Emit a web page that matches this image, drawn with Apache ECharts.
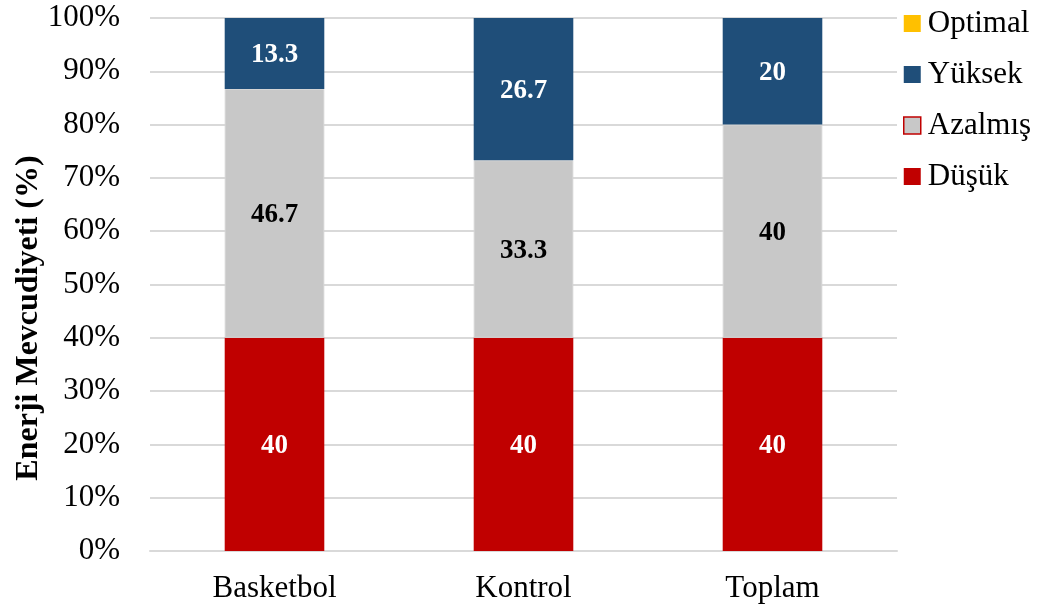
<!DOCTYPE html>
<html>
<head>
<meta charset="utf-8">
<script src="https://cdn.jsdelivr.net/npm/echarts@6/dist/echarts.min.js"></script>
<style>
  html, body { margin: 0; padding: 0; background: #fff; }
  #chart { width: 1037px; height: 612px; }
</style>
</head>
<body>
<div id="chart"></div>
<script>
// Categories and stacked percentages per energy-availability level
const categories = ['Basketbol', 'Kontrol', 'Toplam'];
const dusuk = [40, 40, 40];
const azalmis = [46.7, 33.3, 40];
const yuksek = [13.3, 26.7, 20];
const optimal = [0, 0, 0];
const yTicks = [0, 10, 20, 30, 40, 50, 60, 70, 80, 90, 100];

const FONT = '"Liberation Serif", "Times New Roman", serif';
const RED = '#C00000';
const GRAY = '#C8C8C8';
const BLUE = '#1F4E79';
const GOLD = '#FFC000';

function labelStyle(color) {
  return {
    show: true,
    position: 'inside',
    offset: [0, 2],
    color: color,
    fontFamily: FONT,
    fontWeight: 'bold',
    fontSize: 27,
    formatter: p => (p.value > 0 ? String(p.value) : '')
  };
}

const chart = echarts.init(document.getElementById('chart'), null, { renderer: 'canvas' });
chart.setOption({
  animation: false,
  grid: { left: 150, right: 140, top: 18, bottom: 61 },
  legend: {
    orient: 'vertical',
    left: 898,
    top: 3,
    icon: 'rect',
    itemWidth: 17,
    itemHeight: 17,
    itemGap: 20,
    textStyle: { fontFamily: FONT, fontSize: 31, color: '#000', lineHeight: 31, padding: [0, 0, 0, 2] },
    data: [
      { name: 'Optimal', itemStyle: { color: GOLD } },
      { name: 'Yüksek', itemStyle: { color: BLUE } },
      { name: 'Azalmış', itemStyle: { color: GRAY, borderColor: RED, borderWidth: 1.5 } },
      { name: 'Düşük', itemStyle: { color: RED } }
    ]
  },
  graphic: [{
    type: 'text',
    rotation: Math.PI / 2,
    x: 29, y: 318,
    style: {
      text: 'Enerji Mevcudiyeti (%)',
      fontFamily: FONT,
      fontWeight: 'bold',
      fontSize: 32,
      fill: '#000',
      textAlign: 'center',
      textVerticalAlign: 'middle'
    }
  }],
  xAxis: {
    type: 'category',
    data: categories,
    axisTick: { show: false },
    axisLine: { lineStyle: { color: '#D9D9D9', width: 2 } },
    axisLabel: { fontFamily: FONT, fontSize: 31, color: '#000', margin: 22 }
  },
  yAxis: {
    type: 'value',
    min: yTicks[0],
    max: yTicks[yTicks.length - 1],
    interval: 10,
    axisLine: { show: false },
    axisTick: { show: false },
    splitLine: { lineStyle: { color: '#D9D9D9', width: 2 } },
    axisLabel: {
      fontFamily: FONT, fontSize: 31, color: '#000', margin: 30,
      padding: [4, 0, 0, 0],
      formatter: '{value}%'
    }
  },
  series: [
    {
      name: 'Düşük', type: 'bar', stack: 'total', barWidth: '40%', data: dusuk,
      itemStyle: { color: RED },
      label: labelStyle('#fff')
    },
    {
      name: 'Azalmış', type: 'bar', stack: 'total', barWidth: '40%', data: azalmis,
      itemStyle: { color: GRAY, borderColor: '#D4D4D4', borderWidth: 1 },
      label: labelStyle('#000')
    },
    {
      name: 'Yüksek', type: 'bar', stack: 'total', barWidth: '40%', data: yuksek,
      itemStyle: { color: BLUE },
      label: labelStyle('#fff')
    },
    {
      name: 'Optimal', type: 'bar', stack: 'total', barWidth: '40%', data: optimal,
      itemStyle: { color: GOLD },
      label: { show: false }
    }
  ]
});
</script>
</body>
</html>
